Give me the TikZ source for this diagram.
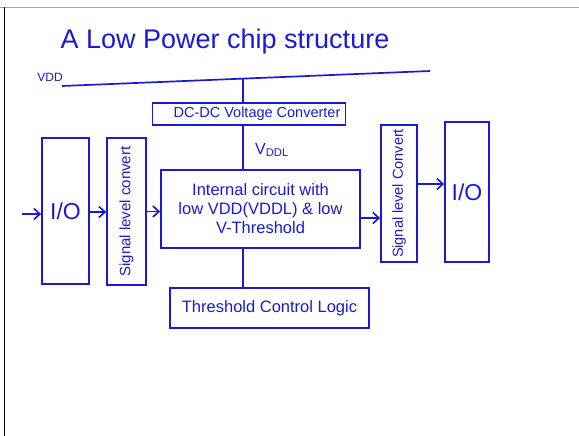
\documentclass[tikz,border=0pt]{standalone}
\usepackage{fontspec}
\setmainfont{Liberation Sans}
\usetikzlibrary{arrows.meta,calc}
\definecolor{ink}{RGB}{25,25,215}
\begin{document}
\begin{tikzpicture}[x=1pt,y=-1pt,
  ink/.style={draw=ink,line width=1.7pt},
  blk/.style={ink,rectangle,inner sep=0pt,text=ink,align=center},
  arr/.style={ink,-{Straight Barb[length=6pt,width=11pt]}},
  lbl/.style={text=ink,inner sep=0pt}]
\useasboundingbox (0,0) rectangle (579,436);
% page frame
\draw[gray!70,line width=1pt] (0,7.5) -- (579,7.5);
\draw[black,line width=1pt] (4,7.5) -- (4,436);
% title
\node[lbl,font=\fontsize{27}{30}\selectfont] (title) at (225,42) {A Low Power chip structure};
% VDD rail
\node[lbl,font=\fontsize{12}{14}\selectfont] (vddlbl) at (50,77) {VDD};
\coordinate (vddL) at (62,86);
\coordinate (vddR) at (430,71);
\draw[ink] (vddL) -- (vddR);
\coordinate (tap) at ($(vddL)!0.492!(vddR)$);
% blocks
\node[blk,minimum width=193pt,minimum height=22pt,font=\fontsize{14.5}{16}\selectfont] (dcdc) at (249,114) {\hspace*{16pt}DC-DC Voltage Converter};
\node[blk,minimum width=199pt,minimum height=78pt,font=\fontsize{16.5}{19}\selectfont] (inner) at (260.5,209)
  {Internal circuit with\\ low VDD(VDDL) \& low\\ V-Threshold};
\node[blk,minimum width=199pt,minimum height=40pt,font=\fontsize{16.5}{18}\selectfont] (thr) at (269.5,308) {Threshold Control Logic};
\node[blk,minimum width=47pt,minimum height=146pt,font=\fontsize{23}{25}\selectfont] (io1) at (65.5,211) {I/O};
\node[blk,minimum width=39pt,minimum height=147pt,font=\fontsize{15}{18}\selectfont] (slc1) at (126.5,211.5) {\rotatebox{90}{Signal level convert}};
\node[blk,minimum width=36pt,minimum height=137pt,font=\fontsize{14.5}{18}\selectfont] (slc2) at (399,193.5) {\rotatebox{90}{Signal level Convert}};
\node[blk,minimum width=44pt,minimum height=140pt,font=\fontsize{23}{25}\selectfont] (io2) at (467,192) {I/O};
% vertical connectors
\draw[ink] (tap) -- (tap |- dcdc.north);
\draw[ink] (dcdc.south -| tap) -- (inner.north -| tap);
\draw[ink] (inner.south -| tap) -- (thr.north -| tap);
\node[lbl,font=\fontsize{16}{18}\selectfont,anchor=west] (vddl) at (255,150) {V\textsubscript{DDL}};
% arrows
\coordinate (inp) at (22,214);
\draw[arr] (inp) -- (inp -| io1.west);
\draw[arr] ([yshift=-1pt]io1.east) -- ([yshift=-1pt]io1.east -| slc1.west);
\draw[arr] (slc1.east) -- (slc1.east -| inner.west);
\draw[arr] ([yshift=-9pt]inner.east) -- ([yshift=-9pt]inner.east -| slc2.west);
\draw[arr] ([yshift=9.5pt]slc2.east) -- ([yshift=9.5pt]slc2.east -| io2.west);
\end{tikzpicture}
\end{document}
